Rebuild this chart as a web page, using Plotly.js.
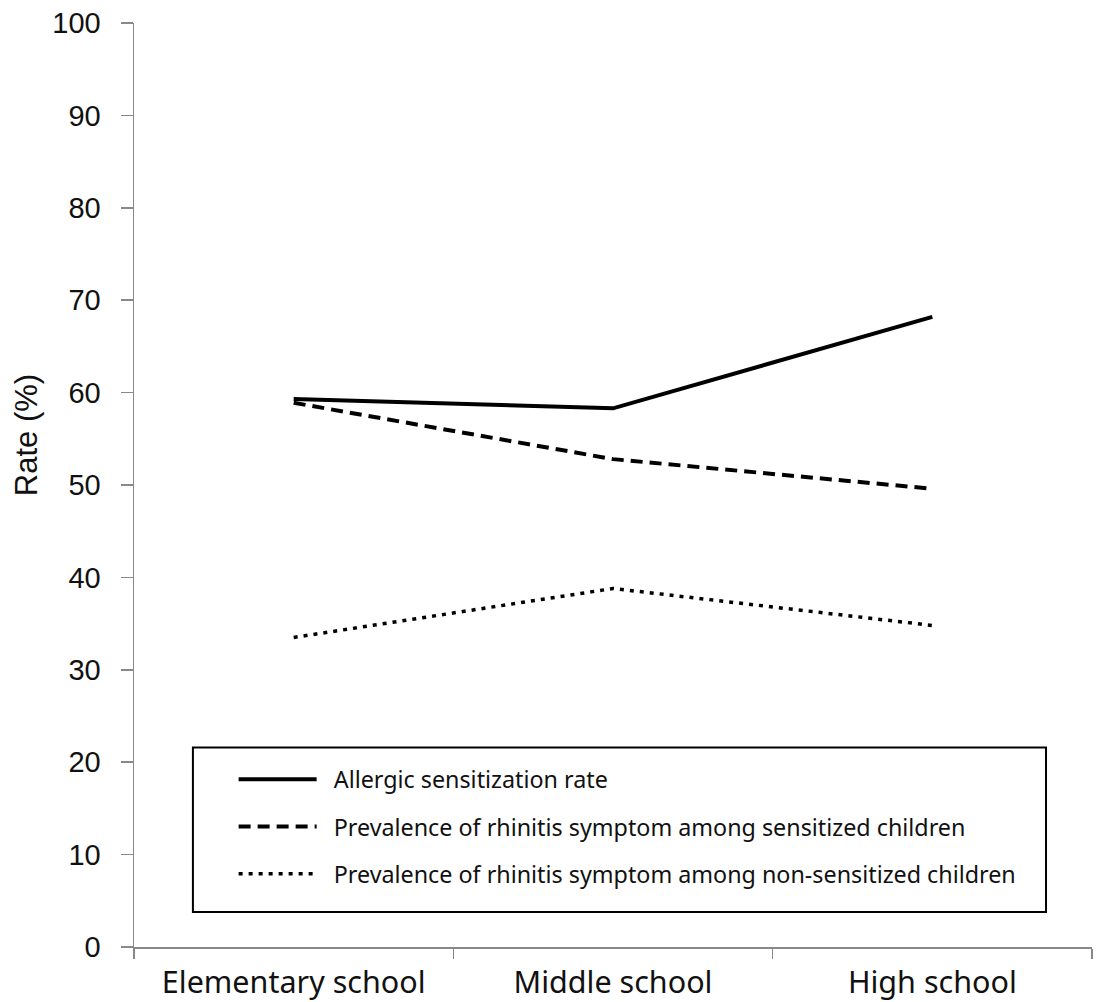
<!DOCTYPE html>
<html>
<head>
<meta charset="utf-8">
<script src="https://cdn.plot.ly/plotly-3.0.1.min.js"></script>
<style>html,body{margin:0;padding:0;background:#fff;}#chart{width:1097px;height:1002px;}</style>
</head>
<body>
<div id="chart"></div>
<script>
const categories = ["Elementary school", "Middle school", "High school"];
const sensitizationRate = [59.3, 58.3, 68.2];
const rhinitisSensitized = [58.9, 52.8, 49.6];
const rhinitisNonSensitized = [33.5, 38.8, 34.8];
const seriesNames = [
  "Allergic sensitization rate",
  "Prevalence of rhinitis symptom among sensitized children",
  "Prevalence of rhinitis symptom among non-sensitized children"
];
const yTicks = [0, 10, 20, 30, 40, 50, 60, 70, 80, 90, 100];
const yTitle = "Rate (%)";
const pad = "\u00a0\u00a0";

const traces = [
  {x: categories, y: sensitizationRate, name: pad + seriesNames[0], mode: "lines", legendgroup: "a",
   line: {color: "#000", width: 4}},
  {x: categories, y: rhinitisSensitized, name: pad + seriesNames[1], mode: "lines", legendgroup: "b",
   line: {color: "#000", width: 4, dash: "12px,7px"}},
  {x: categories, y: rhinitisNonSensitized, name: pad + seriesNames[2], mode: "lines", legendgroup: "c",
   line: {color: "#000", width: 3.5, dash: "4px,6px"}}
];

const layout = {
  width: 1097, height: 1002,
  margin: {l: 134, r: 5, t: 23, b: 55},
  paper_bgcolor: "#fff", plot_bgcolor: "#fff",
  showlegend: true,
  legend: {
    x: 0.104, xanchor: "left", y: 0.205, yanchor: "top",
    bgcolor: "rgba(0,0,0,0)", borderwidth: 0,
    font: {family: "Noto Sans, sans-serif", size: 23.3, color: "#111"},
    itemwidth: 78, traceorder: "grouped", tracegroupgap: 14
  },
  shapes: [{
    type: "rect", xref: "paper", yref: "paper",
    x0: 0.0615, x1: 0.952, y0: 0.038, y1: 0.216,
    line: {color: "#000", width: 2}, fillcolor: "rgba(0,0,0,0)", layer: "below"
  }],
  annotations: [{
    text: yTitle, xref: "paper", yref: "y", x: -0.1127, y: 55.4,
    xanchor: "center", yanchor: "middle", textangle: -90, showarrow: false,
    font: {family: "Liberation Sans, Arial, sans-serif", size: 31, color: "#111"}
  }],
  xaxis: {
    type: "category", range: [-0.5, 2.5], tickson: "boundaries",
    showline: true, linecolor: "#888", linewidth: 1.5,
    ticks: "outside", ticklen: 10, tickcolor: "#888", tickwidth: 1.5,
    ticklabelstandoff: 8,
    showgrid: false, zeroline: false,
    tickfont: {family: "Noto Sans, sans-serif", size: 30.5, color: "#111"}
  },
  yaxis: {
    range: [0, 100], tickvals: yTicks, ticktext: yTicks.map(String),
    showline: true, linecolor: "#888", linewidth: 1.5,
    ticks: "outside", ticklen: 12, tickcolor: "#888", tickwidth: 1.5,
    ticklabelstandoff: 14,
    showgrid: false, zeroline: false,
    tickfont: {family: "Liberation Sans, Arial, sans-serif", size: 29, color: "#111"}
  }
};

Plotly.newPlot("chart", traces, layout, {displayModeBar: false, staticPlot: true});
</script>
</body>
</html>
